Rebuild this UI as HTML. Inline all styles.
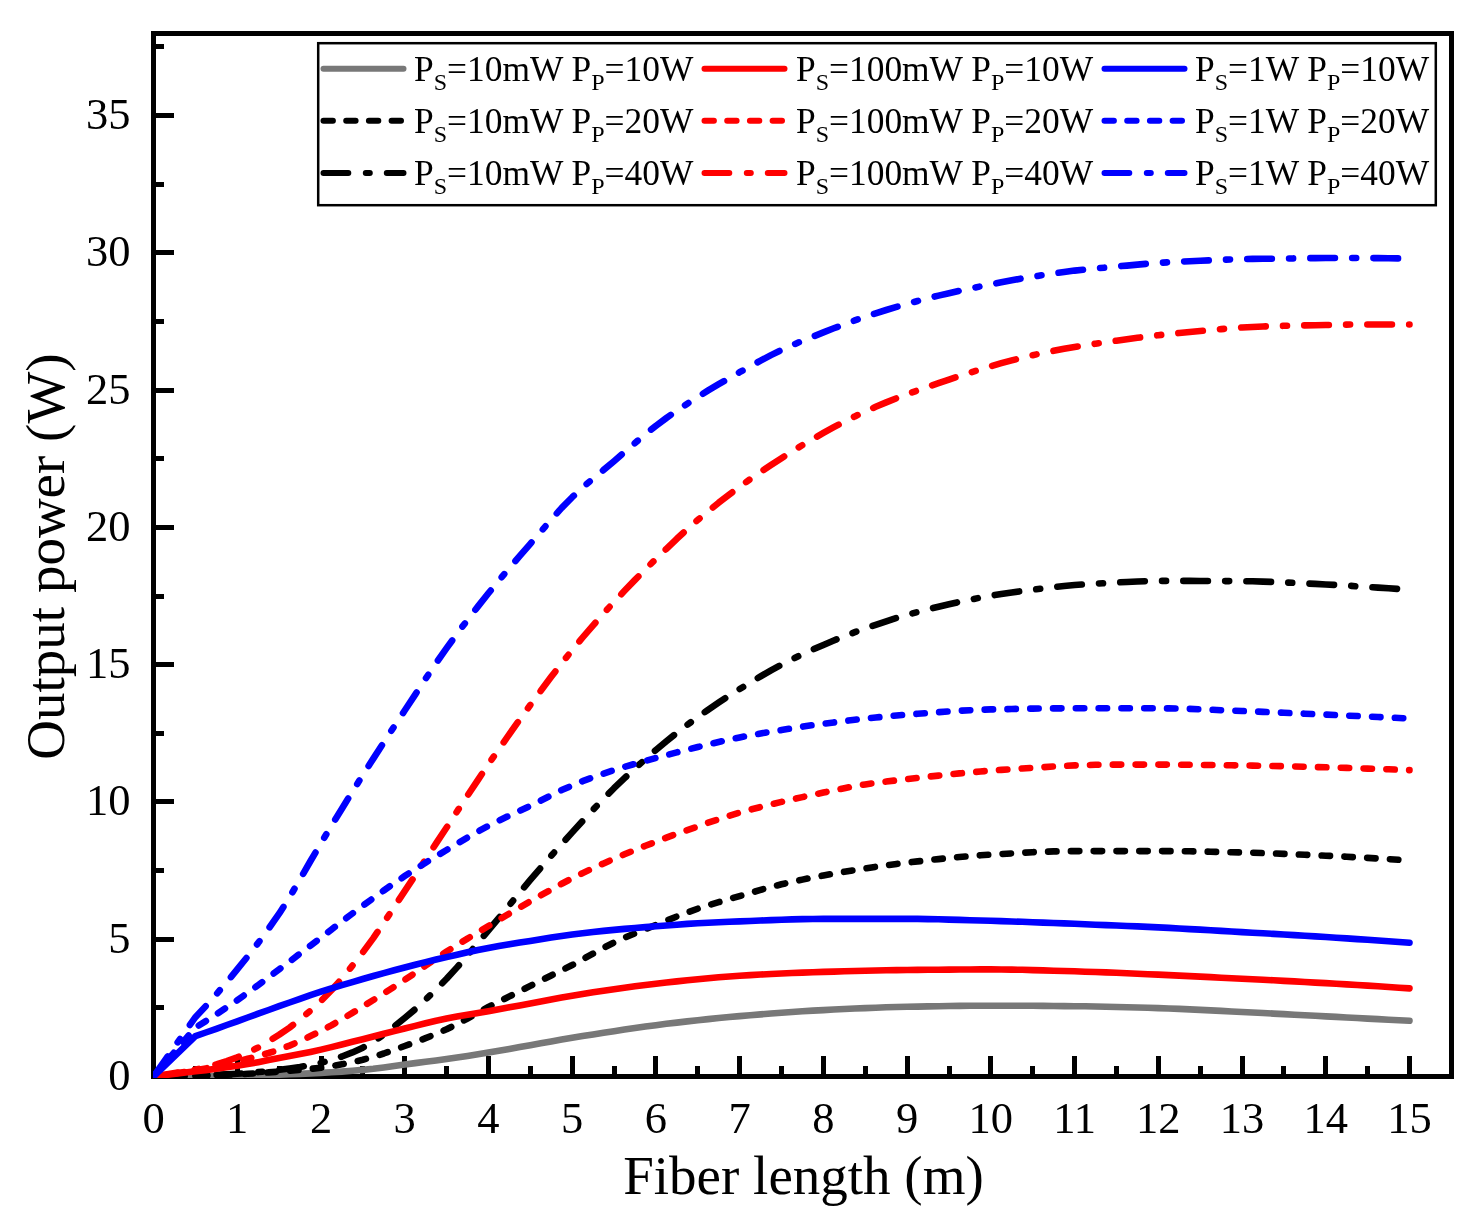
<!DOCTYPE html>
<html><head><meta charset="utf-8"><title>Output power vs fiber length</title>
<style>
html,body{margin:0;padding:0;background:#fff;}
body{width:1479px;height:1221px;position:relative;overflow:hidden;font-family:"Liberation Serif",serif;}
</style></head><body>
<svg width="1479" height="1221" viewBox="0 0 1479 1221" style="position:absolute;left:0;top:0;will-change:transform">
<rect x="0" y="0" width="1479" height="1221" fill="#fff"/>
<defs><clipPath id="pc"><rect x="153" y="30" width="1299" height="1048"/></clipPath></defs>
<rect x="153.5" y="33.5" width="1298" height="1043" fill="none" stroke="#000" stroke-width="5" shape-rendering="crispEdges"/>
<g fill="#000" shape-rendering="crispEdges"><rect x="151.0" y="1056" width="5" height="20" /><rect x="192.9" y="1066" width="5" height="10" /><rect x="234.7" y="1056" width="5" height="20" /><rect x="276.6" y="1066" width="5" height="10" /><rect x="318.5" y="1056" width="5" height="20" /><rect x="360.3" y="1066" width="5" height="10" /><rect x="402.2" y="1056" width="5" height="20" /><rect x="444.1" y="1066" width="5" height="10" /><rect x="485.9" y="1056" width="5" height="20" /><rect x="527.8" y="1066" width="5" height="10" /><rect x="569.7" y="1056" width="5" height="20" /><rect x="611.5" y="1066" width="5" height="10" /><rect x="653.4" y="1056" width="5" height="20" /><rect x="695.3" y="1066" width="5" height="10" /><rect x="737.1" y="1056" width="5" height="20" /><rect x="779.0" y="1066" width="5" height="10" /><rect x="820.9" y="1056" width="5" height="20" /><rect x="862.7" y="1066" width="5" height="10" /><rect x="904.6" y="1056" width="5" height="20" /><rect x="946.5" y="1066" width="5" height="10" /><rect x="988.3" y="1056" width="5" height="20" /><rect x="1030.2" y="1066" width="5" height="10" /><rect x="1072.1" y="1056" width="5" height="20" /><rect x="1113.9" y="1066" width="5" height="10" /><rect x="1155.8" y="1056" width="5" height="20" /><rect x="1197.7" y="1066" width="5" height="10" /><rect x="1239.5" y="1056" width="5" height="20" /><rect x="1281.4" y="1066" width="5" height="10" /><rect x="1323.3" y="1056" width="5" height="20" /><rect x="1365.1" y="1066" width="5" height="10" /><rect x="1407.0" y="1056" width="5" height="20" /><rect x="154" y="1074.0" width="20" height="5" /><rect x="154" y="1005.4" width="10" height="5" /><rect x="154" y="936.7" width="20" height="5" /><rect x="154" y="868.1" width="10" height="5" /><rect x="154" y="799.4" width="20" height="5" /><rect x="154" y="730.8" width="10" height="5" /><rect x="154" y="662.1" width="20" height="5" /><rect x="154" y="593.5" width="10" height="5" /><rect x="154" y="524.9" width="20" height="5" /><rect x="154" y="456.2" width="10" height="5" /><rect x="154" y="387.6" width="20" height="5" /><rect x="154" y="318.9" width="10" height="5" /><rect x="154" y="250.3" width="20" height="5" /><rect x="154" y="181.6" width="10" height="5" /><rect x="154" y="113.0" width="20" height="5" /><rect x="154" y="44.4" width="10" height="5" /></g>
<g fill="none" stroke-width="6.6" stroke-linecap="round" stroke-linejoin="round" clip-path="url(#pc)">
<path d="M153.5 1076.5 L195.4 1076.2 L205.8 1076.1 L216.3 1076.0 L226.8 1075.9 L237.2 1075.7 L247.7 1075.5 L258.2 1075.2 L268.6 1074.9 L279.1 1074.6 L289.6 1074.2 L300.0 1073.9 L310.5 1073.4 L321.0 1072.9 L331.4 1072.3 L341.9 1071.6 L352.4 1070.8 L362.8 1069.9 L373.3 1068.8 L383.8 1067.4 L394.2 1065.9 L404.7 1064.4 L415.2 1063.1 L425.6 1061.7 L436.1 1060.4 L446.6 1058.9 L457.0 1057.4 L467.5 1055.9 L478.0 1054.3 L488.4 1052.6 L498.9 1050.8 L509.4 1049.0 L519.8 1047.1 L530.3 1045.2 L540.8 1043.3 L551.2 1041.4 L561.7 1039.6 L572.2 1037.8 L582.6 1036.1 L593.1 1034.4 L603.6 1032.8 L614.0 1031.2 L624.5 1029.6 L635.0 1028.1 L645.4 1026.6 L655.9 1025.2 L666.4 1023.8 L676.8 1022.6 L687.3 1021.4 L697.8 1020.2 L708.2 1019.1 L718.7 1018.0 L729.2 1017.0 L739.6 1016.1 L750.1 1015.2 L760.6 1014.4 L771.0 1013.5 L781.5 1012.7 L792.0 1012.0 L802.4 1011.3 L812.9 1010.6 L823.4 1010.1 L833.8 1009.5 L844.3 1009.0 L854.8 1008.5 L865.2 1008.1 L875.7 1007.7 L886.2 1007.3 L896.6 1007.0 L907.1 1006.8 L917.6 1006.6 L928.0 1006.4 L938.5 1006.2 L949.0 1006.0 L959.4 1005.9 L969.9 1005.8 L980.4 1005.7 L990.8 1005.7 L1001.3 1005.7 L1011.8 1005.7 L1022.2 1005.8 L1032.7 1005.8 L1043.2 1005.9 L1053.6 1006.0 L1064.1 1006.1 L1074.6 1006.2 L1085.0 1006.3 L1095.5 1006.5 L1106.0 1006.7 L1116.4 1007.0 L1126.9 1007.2 L1137.4 1007.5 L1147.8 1007.8 L1158.3 1008.1 L1168.8 1008.5 L1179.2 1008.9 L1189.7 1009.4 L1200.2 1009.9 L1210.6 1010.4 L1221.1 1010.9 L1231.6 1011.5 L1242.0 1012.0 L1252.5 1012.5 L1263.0 1013.0 L1273.4 1013.6 L1283.9 1014.1 L1294.4 1014.7 L1304.8 1015.3 L1315.3 1015.8 L1325.8 1016.4 L1336.2 1016.9 L1346.7 1017.5 L1357.2 1018.0 L1367.6 1018.6 L1378.1 1019.1 L1388.6 1019.7 L1399.0 1020.2 L1409.5 1020.8" stroke="#787878"/>
<path d="M153.5 1076.5 L195.4 1075.7 L205.8 1075.5 L216.3 1075.1 L226.8 1074.7 L237.2 1074.3 L247.7 1073.8 L258.2 1073.1 L268.6 1072.4 L279.1 1071.6 L289.6 1070.7 L300.0 1069.9 L310.5 1068.9 L321.0 1067.7 L331.4 1066.2 L341.9 1064.3 L352.4 1062.2 L362.8 1059.8 L373.3 1056.9 L383.8 1053.5 L394.2 1049.8 L404.7 1046.0 L415.2 1042.2 L425.6 1038.2 L436.1 1033.9 L446.6 1029.3 L457.0 1024.1 L467.5 1018.5 L478.0 1012.7 L488.4 1007.0 L498.9 1001.7 L509.4 996.4 L519.8 991.1 L530.3 985.9 L540.8 980.7 L551.2 975.5 L561.7 970.3 L572.2 965.0 L582.6 959.4 L593.1 953.5 L603.6 947.8 L614.0 942.5 L624.5 937.8 L635.0 933.4 L645.4 929.1 L655.9 924.9 L666.4 920.7 L676.8 916.5 L687.3 912.5 L697.8 908.7 L708.2 905.3 L718.7 902.2 L729.2 899.1 L739.6 896.1 L750.1 893.0 L760.6 889.9 L771.0 887.0 L781.5 884.3 L792.0 881.9 L802.4 879.6 L812.9 877.5 L823.4 875.5 L833.8 873.6 L844.3 871.8 L854.8 870.1 L865.2 868.4 L875.7 866.8 L886.2 865.3 L896.6 863.9 L907.1 862.6 L917.6 861.4 L928.0 860.2 L938.5 859.1 L949.0 858.0 L959.4 857.0 L969.9 856.1 L980.4 855.3 L990.8 854.6 L1001.3 854.0 L1011.8 853.4 L1022.2 852.8 L1032.7 852.2 L1043.2 851.8 L1053.6 851.4 L1064.1 851.2 L1074.6 851.1 L1085.0 851.1 L1095.5 851.1 L1106.0 851.1 L1116.4 851.1 L1126.9 851.1 L1137.4 851.1 L1147.8 851.1 L1158.3 851.1 L1168.8 851.1 L1179.2 851.2 L1189.7 851.3 L1200.2 851.5 L1210.6 851.7 L1221.1 852.0 L1231.6 852.2 L1242.0 852.5 L1252.5 852.7 L1263.0 853.1 L1273.4 853.4 L1283.9 853.9 L1294.4 854.3 L1304.8 854.8 L1315.3 855.3 L1325.8 855.7 L1336.2 856.2 L1346.7 856.8 L1357.2 857.3 L1367.6 857.9 L1378.1 858.5 L1388.6 859.1 L1399.0 859.8 L1409.5 860.4" stroke="#000" stroke-dasharray="8.4 14.4"/>
<path d="M153.5 1076.5 L195.4 1075.7 L205.8 1075.4 L216.3 1074.9 L226.8 1074.4 L237.2 1073.8 L247.7 1073.0 L258.2 1072.1 L268.6 1071.1 L279.1 1069.9 L289.6 1068.5 L300.0 1066.9 L310.5 1065.0 L321.0 1062.8 L331.4 1060.0 L341.9 1056.5 L352.4 1052.4 L362.8 1047.7 L373.3 1041.8 L383.8 1034.6 L394.2 1026.5 L404.7 1018.0 L415.2 1009.2 L425.6 999.6 L436.1 989.4 L446.6 978.8 L457.0 967.4 L467.5 955.4 L478.0 942.9 L488.4 930.4 L498.9 917.9 L509.4 905.1 L519.8 892.4 L530.3 879.9 L540.8 867.7 L551.2 855.8 L561.7 844.0 L572.2 832.4 L582.6 821.0 L593.1 809.7 L603.6 798.7 L614.0 788.2 L624.5 778.1 L635.0 768.4 L645.4 759.1 L655.9 750.0 L666.4 741.3 L676.8 732.9 L687.3 724.8 L697.8 717.1 L708.2 709.7 L718.7 702.6 L729.2 695.7 L739.6 689.1 L750.1 682.6 L760.6 676.3 L771.0 670.3 L781.5 664.6 L792.0 659.3 L802.4 654.3 L812.9 649.5 L823.4 644.9 L833.8 640.5 L844.3 636.2 L854.8 632.2 L865.2 628.4 L875.7 624.8 L886.2 621.3 L896.6 618.0 L907.1 614.9 L917.6 612.0 L928.0 609.3 L938.5 606.7 L949.0 604.2 L959.4 601.9 L969.9 599.7 L980.4 597.6 L990.8 595.7 L1001.3 594.0 L1011.8 592.5 L1022.2 591.0 L1032.7 589.7 L1043.2 588.4 L1053.6 587.1 L1064.1 586.0 L1074.6 585.0 L1085.0 584.3 L1095.5 583.6 L1106.0 583.1 L1116.4 582.5 L1126.9 582.0 L1137.4 581.5 L1147.8 581.1 L1158.3 580.9 L1168.8 580.9 L1179.2 580.9 L1189.7 580.9 L1200.2 581.0 L1210.6 581.0 L1221.1 581.1 L1231.6 581.1 L1242.0 581.2 L1252.5 581.3 L1263.0 581.6 L1273.4 581.9 L1283.9 582.4 L1294.4 582.9 L1304.8 583.4 L1315.3 583.9 L1325.8 584.5 L1336.2 585.0 L1346.7 585.6 L1357.2 586.3 L1367.6 586.9 L1378.1 587.6 L1388.6 588.3 L1399.0 589.0 L1409.5 589.7" stroke="#000" stroke-dasharray="24.6 17.25 4 17.25"/>
<path d="M153.5 1076.5 L195.4 1071.3 L205.8 1070.1 L216.3 1068.8 L226.8 1067.3 L237.2 1065.8 L247.7 1064.1 L258.2 1062.2 L268.6 1060.1 L279.1 1058.1 L289.6 1056.1 L300.0 1054.0 L310.5 1051.9 L321.0 1049.6 L331.4 1047.1 L341.9 1044.5 L352.4 1041.8 L362.8 1039.2 L373.3 1036.5 L383.8 1033.8 L394.2 1031.1 L404.7 1028.5 L415.2 1025.9 L425.6 1023.3 L436.1 1020.8 L446.6 1018.6 L457.0 1016.6 L467.5 1014.7 L478.0 1013.0 L488.4 1011.2 L498.9 1009.3 L509.4 1007.3 L519.8 1005.4 L530.3 1003.5 L540.8 1001.5 L551.2 999.5 L561.7 997.6 L572.2 995.8 L582.6 994.0 L593.1 992.3 L603.6 990.7 L614.0 989.2 L624.5 987.7 L635.0 986.3 L645.4 985.0 L655.9 983.7 L666.4 982.5 L676.8 981.4 L687.3 980.3 L697.8 979.3 L708.2 978.3 L718.7 977.3 L729.2 976.5 L739.6 975.7 L750.1 975.1 L760.6 974.5 L771.0 974.0 L781.5 973.5 L792.0 973.0 L802.4 972.6 L812.9 972.2 L823.4 971.9 L833.8 971.6 L844.3 971.3 L854.8 971.0 L865.2 970.7 L875.7 970.5 L886.2 970.3 L896.6 970.1 L907.1 970.0 L917.6 969.9 L928.0 969.8 L938.5 969.7 L949.0 969.6 L959.4 969.5 L969.9 969.5 L980.4 969.4 L990.8 969.4 L1001.3 969.5 L1011.8 969.6 L1022.2 969.8 L1032.7 970.1 L1043.2 970.4 L1053.6 970.7 L1064.1 971.0 L1074.6 971.3 L1085.0 971.7 L1095.5 972.0 L1106.0 972.4 L1116.4 972.8 L1126.9 973.3 L1137.4 973.7 L1147.8 974.2 L1158.3 974.6 L1168.8 975.1 L1179.2 975.6 L1189.7 976.1 L1200.2 976.6 L1210.6 977.1 L1221.1 977.7 L1231.6 978.2 L1242.0 978.8 L1252.5 979.3 L1263.0 979.8 L1273.4 980.3 L1283.9 980.9 L1294.4 981.4 L1304.8 982.0 L1315.3 982.6 L1325.8 983.1 L1336.2 983.7 L1346.7 984.4 L1357.2 985.0 L1367.6 985.6 L1378.1 986.3 L1388.6 987.0 L1399.0 987.7 L1409.5 988.4" stroke="#ff0000"/>
<path d="M153.5 1076.5 L195.4 1070.5 L205.8 1068.4 L216.3 1066.2 L226.8 1063.9 L237.2 1061.4 L247.7 1058.8 L258.2 1056.0 L268.6 1053.0 L279.1 1049.6 L289.6 1045.6 L300.0 1041.1 L310.5 1036.1 L321.0 1030.9 L331.4 1025.3 L341.9 1019.2 L352.4 1012.9 L362.8 1006.5 L373.3 1000.0 L383.8 993.4 L394.2 986.7 L404.7 979.9 L415.2 972.8 L425.6 965.6 L436.1 958.5 L446.6 951.6 L457.0 945.0 L467.5 938.6 L478.0 932.3 L488.4 926.0 L498.9 919.8 L509.4 913.5 L519.8 907.4 L530.3 901.3 L540.8 895.4 L551.2 889.5 L561.7 883.7 L572.2 878.3 L582.6 873.1 L593.1 868.1 L603.6 863.4 L614.0 858.8 L624.5 854.3 L635.0 850.0 L645.4 845.8 L655.9 841.7 L666.4 837.7 L676.8 833.8 L687.3 830.1 L697.8 826.4 L708.2 822.7 L718.7 819.2 L729.2 815.8 L739.6 812.6 L750.1 809.7 L760.6 807.0 L771.0 804.4 L781.5 801.9 L792.0 799.5 L802.4 797.1 L812.9 794.8 L823.4 792.6 L833.8 790.4 L844.3 788.2 L854.8 786.1 L865.2 784.4 L875.7 782.9 L886.2 781.6 L896.6 780.3 L907.1 779.1 L917.6 777.9 L928.0 776.7 L938.5 775.6 L949.0 774.5 L959.4 773.4 L969.9 772.4 L980.4 771.5 L990.8 770.6 L1001.3 769.9 L1011.8 769.2 L1022.2 768.5 L1032.7 767.9 L1043.2 767.2 L1053.6 766.5 L1064.1 765.9 L1074.6 765.4 L1085.0 765.1 L1095.5 764.8 L1106.0 764.7 L1116.4 764.6 L1126.9 764.6 L1137.4 764.6 L1147.8 764.6 L1158.3 764.6 L1168.8 764.6 L1179.2 764.7 L1189.7 764.7 L1200.2 764.9 L1210.6 765.0 L1221.1 765.1 L1231.6 765.3 L1242.0 765.4 L1252.5 765.6 L1263.0 765.8 L1273.4 766.0 L1283.9 766.2 L1294.4 766.5 L1304.8 766.8 L1315.3 767.1 L1325.8 767.3 L1336.2 767.6 L1346.7 767.9 L1357.2 768.3 L1367.6 768.6 L1378.1 768.9 L1388.6 769.3 L1399.0 769.7 L1409.5 770.1" stroke="#ff0000" stroke-dasharray="8.4 14.4"/>
<path d="M153.5 1076.5 L195.4 1069.6 L205.8 1067.4 L216.3 1064.5 L226.8 1061.1 L237.2 1057.3 L247.7 1052.8 L258.2 1047.4 L268.6 1041.3 L279.1 1034.8 L289.6 1027.6 L300.0 1019.5 L310.5 1010.6 L321.0 1001.0 L331.4 990.3 L341.9 978.5 L352.4 965.7 L362.8 952.4 L373.3 938.1 L383.8 922.8 L394.2 907.0 L404.7 891.2 L415.2 875.4 L425.6 859.4 L436.1 843.4 L446.6 827.5 L457.0 811.5 L467.5 795.6 L478.0 779.8 L488.4 764.3 L498.9 749.1 L509.4 734.1 L519.8 719.4 L530.3 705.0 L540.8 690.8 L551.2 676.8 L561.7 663.2 L572.2 650.1 L582.6 637.5 L593.1 625.3 L603.6 613.5 L614.0 602.0 L624.5 590.8 L635.0 579.9 L645.4 569.3 L655.9 558.9 L666.4 548.8 L676.8 538.8 L687.3 529.2 L697.8 519.9 L708.2 511.2 L718.7 502.7 L729.2 494.6 L739.6 486.7 L750.1 479.2 L760.6 472.0 L771.0 465.0 L781.5 458.2 L792.0 451.5 L802.4 445.1 L812.9 438.9 L823.4 432.9 L833.8 427.2 L844.3 421.7 L854.8 416.4 L865.2 411.5 L875.7 406.8 L886.2 402.4 L896.6 398.2 L907.1 394.2 L917.6 390.4 L928.0 386.7 L938.5 383.1 L949.0 379.6 L959.4 376.1 L969.9 372.7 L980.4 369.3 L990.8 366.2 L1001.3 363.2 L1011.8 360.4 L1022.2 357.7 L1032.7 355.2 L1043.2 352.9 L1053.6 350.8 L1064.1 348.8 L1074.6 347.0 L1085.0 345.3 L1095.5 343.7 L1106.0 342.1 L1116.4 340.7 L1126.9 339.2 L1137.4 337.8 L1147.8 336.4 L1158.3 335.2 L1168.8 334.0 L1179.2 333.0 L1189.7 332.0 L1200.2 331.0 L1210.6 330.1 L1221.1 329.1 L1231.6 328.2 L1242.0 327.5 L1252.5 327.0 L1263.0 326.5 L1273.4 326.1 L1283.9 325.8 L1294.4 325.6 L1304.8 325.4 L1315.3 325.2 L1325.8 325.0 L1336.2 324.8 L1346.7 324.6 L1357.2 324.5 L1367.6 324.5 L1378.1 324.5 L1388.6 324.5 L1399.0 324.5 L1409.5 324.5" stroke="#ff0000" stroke-dasharray="24.6 17.25 4 17.25"/>
<path d="M153.5 1076.5 L195.4 1036.1 L205.8 1032.5 L216.3 1028.8 L226.8 1025.0 L237.2 1021.3 L247.7 1017.5 L258.2 1013.7 L268.6 1010.0 L279.1 1006.2 L289.6 1002.5 L300.0 998.8 L310.5 995.1 L321.0 991.7 L331.4 988.3 L341.9 985.2 L352.4 982.1 L362.8 979.0 L373.3 976.0 L383.8 973.1 L394.2 970.3 L404.7 967.5 L415.2 964.8 L425.6 962.1 L436.1 959.5 L446.6 957.1 L457.0 954.7 L467.5 952.3 L478.0 950.1 L488.4 948.0 L498.9 946.1 L509.4 944.3 L519.8 942.5 L530.3 940.9 L540.8 939.2 L551.2 937.5 L561.7 936.0 L572.2 934.5 L582.6 933.3 L593.1 932.0 L603.6 930.9 L614.0 929.9 L624.5 928.9 L635.0 928.0 L645.4 927.1 L655.9 926.3 L666.4 925.5 L676.8 924.7 L687.3 923.9 L697.8 923.3 L708.2 922.7 L718.7 922.2 L729.2 921.8 L739.6 921.4 L750.1 921.0 L760.6 920.5 L771.0 920.1 L781.5 919.7 L792.0 919.4 L802.4 919.1 L812.9 919.0 L823.4 918.9 L833.8 918.9 L844.3 918.9 L854.8 918.9 L865.2 918.9 L875.7 918.9 L886.2 918.9 L896.6 918.9 L907.1 918.9 L917.6 918.9 L928.0 919.1 L938.5 919.3 L949.0 919.6 L959.4 919.9 L969.9 920.2 L980.4 920.5 L990.8 920.8 L1001.3 921.1 L1011.8 921.5 L1022.2 921.8 L1032.7 922.2 L1043.2 922.6 L1053.6 923.0 L1064.1 923.4 L1074.6 923.8 L1085.0 924.3 L1095.5 924.7 L1106.0 925.1 L1116.4 925.5 L1126.9 926.0 L1137.4 926.4 L1147.8 926.9 L1158.3 927.4 L1168.8 927.9 L1179.2 928.5 L1189.7 929.1 L1200.2 929.6 L1210.6 930.3 L1221.1 930.9 L1231.6 931.5 L1242.0 932.1 L1252.5 932.7 L1263.0 933.3 L1273.4 933.9 L1283.9 934.5 L1294.4 935.1 L1304.8 935.7 L1315.3 936.4 L1325.8 937.0 L1336.2 937.7 L1346.7 938.4 L1357.2 939.1 L1367.6 939.8 L1378.1 940.5 L1388.6 941.3 L1399.0 942.0 L1409.5 942.8" stroke="#0000ff"/>
<path d="M153.5 1076.5 L195.4 1027.6 L205.8 1021.1 L216.3 1014.3 L226.8 1007.3 L237.2 1000.2 L247.7 992.8 L258.2 985.1 L268.6 977.3 L279.1 969.4 L289.6 961.5 L300.0 953.6 L310.5 945.6 L321.0 937.6 L331.4 929.6 L341.9 921.5 L352.4 913.5 L362.8 905.7 L373.3 898.1 L383.8 890.5 L394.2 883.2 L404.7 876.1 L415.2 869.3 L425.6 862.7 L436.1 856.3 L446.6 850.0 L457.0 843.7 L467.5 837.5 L478.0 831.5 L488.4 825.8 L498.9 820.6 L509.4 815.6 L519.8 810.7 L530.3 805.8 L540.8 800.6 L551.2 795.3 L561.7 790.1 L572.2 785.5 L582.6 781.2 L593.1 777.3 L603.6 773.6 L614.0 770.1 L624.5 766.8 L635.0 763.8 L645.4 760.9 L655.9 758.0 L666.4 755.1 L676.8 752.4 L687.3 749.6 L697.8 747.0 L708.2 744.5 L718.7 742.0 L729.2 739.6 L739.6 737.4 L750.1 735.4 L760.6 733.5 L771.0 731.7 L781.5 730.0 L792.0 728.3 L802.4 726.7 L812.9 725.1 L823.4 723.7 L833.8 722.4 L844.3 721.1 L854.8 719.8 L865.2 718.6 L875.7 717.5 L886.2 716.5 L896.6 715.5 L907.1 714.6 L917.6 713.8 L928.0 713.0 L938.5 712.2 L949.0 711.4 L959.4 710.7 L969.9 710.2 L980.4 709.7 L990.8 709.4 L1001.3 709.2 L1011.8 709.0 L1022.2 708.8 L1032.7 708.6 L1043.2 708.5 L1053.6 708.4 L1064.1 708.3 L1074.6 708.3 L1085.0 708.3 L1095.5 708.3 L1106.0 708.3 L1116.4 708.3 L1126.9 708.3 L1137.4 708.3 L1147.8 708.3 L1158.3 708.3 L1168.8 708.4 L1179.2 708.6 L1189.7 708.9 L1200.2 709.3 L1210.6 709.7 L1221.1 710.2 L1231.6 710.6 L1242.0 711.0 L1252.5 711.4 L1263.0 711.9 L1273.4 712.3 L1283.9 712.8 L1294.4 713.2 L1304.8 713.7 L1315.3 714.2 L1325.8 714.6 L1336.2 715.1 L1346.7 715.6 L1357.2 716.0 L1367.6 716.5 L1378.1 717.0 L1388.6 717.5 L1399.0 718.0 L1409.5 718.5" stroke="#0000ff" stroke-dasharray="8.4 14.4"/>
<path d="M153.5 1076.5 L195.4 1017.2 L205.8 1006.0 L216.3 994.3 L226.8 982.1 L237.2 969.4 L247.7 956.4 L258.2 942.9 L268.6 928.7 L279.1 913.7 L289.6 897.1 L300.0 879.3 L310.5 861.0 L321.0 843.1 L331.4 825.8 L341.9 808.7 L352.4 791.7 L362.8 775.0 L373.3 758.6 L383.8 742.4 L394.2 726.4 L404.7 710.5 L415.2 694.6 L425.6 678.7 L436.1 663.1 L446.6 648.2 L457.0 633.8 L467.5 619.9 L478.0 606.4 L488.4 593.3 L498.9 580.5 L509.4 568.0 L519.8 555.9 L530.3 543.8 L540.8 531.7 L551.2 519.6 L561.7 507.9 L572.2 497.2 L582.6 487.5 L593.1 478.6 L603.6 469.9 L614.0 461.2 L624.5 452.1 L635.0 443.0 L645.4 434.1 L655.9 425.8 L666.4 418.0 L676.8 410.7 L687.3 403.7 L697.8 396.9 L708.2 390.4 L718.7 384.2 L729.2 378.1 L739.6 372.2 L750.1 366.4 L760.6 360.6 L771.0 355.1 L781.5 350.0 L792.0 345.3 L802.4 340.8 L812.9 336.6 L823.4 332.4 L833.8 328.3 L844.3 324.3 L854.8 320.4 L865.2 316.8 L875.7 313.3 L886.2 310.0 L896.6 306.9 L907.1 303.9 L917.6 301.0 L928.0 298.2 L938.5 295.6 L949.0 293.2 L959.4 290.8 L969.9 288.6 L980.4 286.4 L990.8 284.4 L1001.3 282.3 L1011.8 280.3 L1022.2 278.4 L1032.7 276.7 L1043.2 275.0 L1053.6 273.4 L1064.1 272.0 L1074.6 270.6 L1085.0 269.5 L1095.5 268.4 L1106.0 267.5 L1116.4 266.5 L1126.9 265.6 L1137.4 264.6 L1147.8 263.7 L1158.3 262.9 L1168.8 262.3 L1179.2 261.7 L1189.7 261.2 L1200.2 260.8 L1210.6 260.3 L1221.1 259.8 L1231.6 259.4 L1242.0 259.1 L1252.5 258.9 L1263.0 258.8 L1273.4 258.7 L1283.9 258.6 L1294.4 258.4 L1304.8 258.2 L1315.3 258.1 L1325.8 258.0 L1336.2 258.0 L1346.7 258.0 L1357.2 258.0 L1367.6 258.1 L1378.1 258.1 L1388.6 258.2 L1399.0 258.4 L1409.5 258.6" stroke="#0000ff" stroke-dasharray="24.6 17.25 4 17.25"/>
</g>
<rect x="318.2" y="43.2" width="1117.6" height="162" fill="#fff" stroke="#000" stroke-width="2.5"/>
<g fill="none" stroke-width="6" stroke-linecap="round">
<line x1="323.5" y1="68.8" x2="403.5" y2="68.8" stroke="#787878"/>
<line x1="323.5" y1="120.7" x2="403.5" y2="120.7" stroke="#000" stroke-dasharray="9.4 13.3"/>
<line x1="323.5" y1="172.9" x2="403.5" y2="172.9" stroke="#000" stroke-dasharray="24.8 17.5 4 17"/>
<line x1="704.5" y1="68.8" x2="784.5" y2="68.8" stroke="#ff0000"/>
<line x1="704.5" y1="120.7" x2="784.5" y2="120.7" stroke="#ff0000" stroke-dasharray="9.4 13.3"/>
<line x1="704.5" y1="172.9" x2="784.5" y2="172.9" stroke="#ff0000" stroke-dasharray="24.8 17.5 4 17"/>
<line x1="1104.5" y1="68.8" x2="1184.5" y2="68.8" stroke="#0000ff"/>
<line x1="1104.5" y1="120.7" x2="1184.5" y2="120.7" stroke="#0000ff" stroke-dasharray="9.4 13.3"/>
<line x1="1104.5" y1="172.9" x2="1184.5" y2="172.9" stroke="#0000ff" stroke-dasharray="24.8 17.5 4 17"/>
</g>
<g font-family="Liberation Serif, serif" font-size="35.4" fill="#000">
<text x="414.0" y="81.2" xml:space="preserve">P<tspan font-size="24" dy="8.5">S</tspan><tspan dy="-8.5">=10mW P</tspan><tspan font-size="24" dy="8.5">P</tspan><tspan dy="-8.5">=10W</tspan></text>
<text x="414.0" y="133.1" xml:space="preserve">P<tspan font-size="24" dy="8.5">S</tspan><tspan dy="-8.5">=10mW P</tspan><tspan font-size="24" dy="8.5">P</tspan><tspan dy="-8.5">=20W</tspan></text>
<text x="414.0" y="185.3" xml:space="preserve">P<tspan font-size="24" dy="8.5">S</tspan><tspan dy="-8.5">=10mW P</tspan><tspan font-size="24" dy="8.5">P</tspan><tspan dy="-8.5">=40W</tspan></text>
<text x="796.0" y="81.2" xml:space="preserve">P<tspan font-size="24" dy="8.5">S</tspan><tspan dy="-8.5">=100mW P</tspan><tspan font-size="24" dy="8.5">P</tspan><tspan dy="-8.5">=10W</tspan></text>
<text x="796.0" y="133.1" xml:space="preserve">P<tspan font-size="24" dy="8.5">S</tspan><tspan dy="-8.5">=100mW P</tspan><tspan font-size="24" dy="8.5">P</tspan><tspan dy="-8.5">=20W</tspan></text>
<text x="796.0" y="185.3" xml:space="preserve">P<tspan font-size="24" dy="8.5">S</tspan><tspan dy="-8.5">=100mW P</tspan><tspan font-size="24" dy="8.5">P</tspan><tspan dy="-8.5">=40W</tspan></text>
<text x="1195.0" y="81.2" xml:space="preserve">P<tspan font-size="24" dy="8.5">S</tspan><tspan dy="-8.5">=1W P</tspan><tspan font-size="24" dy="8.5">P</tspan><tspan dy="-8.5">=10W</tspan></text>
<text x="1195.0" y="133.1" xml:space="preserve">P<tspan font-size="24" dy="8.5">S</tspan><tspan dy="-8.5">=1W P</tspan><tspan font-size="24" dy="8.5">P</tspan><tspan dy="-8.5">=20W</tspan></text>
<text x="1195.0" y="185.3" xml:space="preserve">P<tspan font-size="24" dy="8.5">S</tspan><tspan dy="-8.5">=1W P</tspan><tspan font-size="24" dy="8.5">P</tspan><tspan dy="-8.5">=40W</tspan></text>
</g>
<g font-family="Liberation Serif, serif" font-size="44.5" fill="#000">
<text x="153.5" y="1133" text-anchor="middle">0</text>
<text x="237.2" y="1133" text-anchor="middle">1</text>
<text x="321.0" y="1133" text-anchor="middle">2</text>
<text x="404.7" y="1133" text-anchor="middle">3</text>
<text x="488.4" y="1133" text-anchor="middle">4</text>
<text x="572.2" y="1133" text-anchor="middle">5</text>
<text x="655.9" y="1133" text-anchor="middle">6</text>
<text x="739.6" y="1133" text-anchor="middle">7</text>
<text x="823.4" y="1133" text-anchor="middle">8</text>
<text x="907.1" y="1133" text-anchor="middle">9</text>
<text x="990.8" y="1133" text-anchor="middle">10</text>
<text x="1074.6" y="1133" text-anchor="middle">11</text>
<text x="1158.3" y="1133" text-anchor="middle">12</text>
<text x="1242.0" y="1133" text-anchor="middle">13</text>
<text x="1325.8" y="1133" text-anchor="middle">14</text>
<text x="1409.5" y="1133" text-anchor="middle">15</text>
<text x="130.5" y="1090.0" text-anchor="end">0</text>
<text x="130.5" y="952.7" text-anchor="end">5</text>
<text x="130.5" y="815.4" text-anchor="end">10</text>
<text x="130.5" y="678.1" text-anchor="end">15</text>
<text x="130.5" y="540.9" text-anchor="end">20</text>
<text x="130.5" y="403.6" text-anchor="end">25</text>
<text x="130.5" y="266.3" text-anchor="end">30</text>
<text x="130.5" y="129.0" text-anchor="end">35</text>
</g>
<g font-family="Liberation Serif, serif" font-size="55" fill="#000">
<text x="803.5" y="1193.5" text-anchor="middle">Fiber length (m)</text>
<text transform="translate(64,556.5) rotate(-90)" text-anchor="middle">Output power (W)</text>
</g>
</svg>
</body></html>
